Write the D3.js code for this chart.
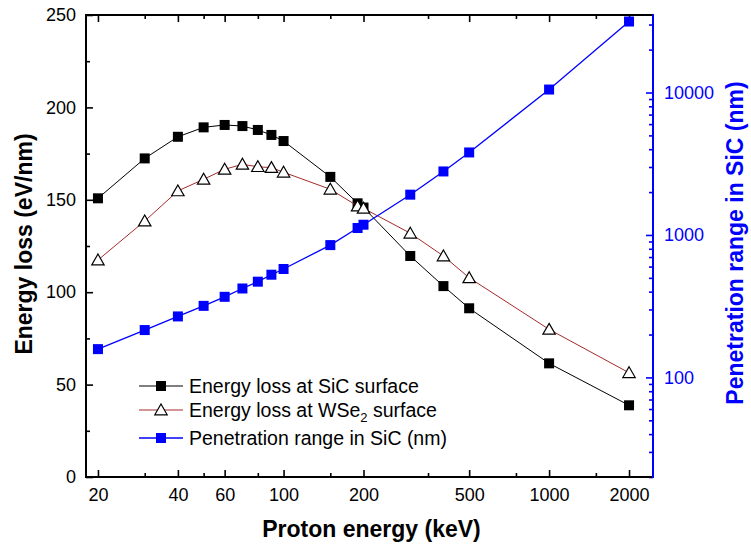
<!DOCTYPE html>
<html>
<head>
<meta charset="utf-8">
<script src="https://cdn.jsdelivr.net/npm/d3@7"></script>
<style>
  body { margin: 0; background: #fff; }
  svg { display: block; font-family: "Liberation Sans", Arial, sans-serif; }
</style>
</head>
<body>
<svg id="chart" width="751" height="548"></svg>
<script>
// proton energies (keV)
var energies = [20, 30, 40, 50, 60, 70, 80, 90, 100, 150, 190, 200, 300, 400, 500, 1000, 2000];
// energy loss at SiC surface (eV/nm)
var sicLoss = [150.8, 172.4, 184.1, 189.2, 190.5, 189.9, 187.8, 185.1, 181.8, 162.4, 148.1, 145.8, 119.6, 103.3, 91.3, 61.5, 38.8];
// energy loss at WSe2 surface (eV/nm)
var wseLoss = [117.4, 138.5, 154.8, 161.1, 166.5, 169.2, 167.9, 167.4, 164.9, 155.7, 146.6, 145.4, 131.9, 119.6, 107.8, 79.9, 56.4];
// penetration range in SiC (nm)
var rangeSiC = [158, 215, 268, 318, 368, 421, 470, 526, 577, 849, 1119, 1180, 1918, 2792, 3795, 10490, 31500];

var xTicks = [20, 40, 60, 100, 200, 500, 1000, 2000];
var xMinor = [30, 50, 80, 150, 350, 750, 1500];
var yTicks = [0, 50, 100, 150, 200, 250];
var yMinor = [25, 75, 125, 175, 225];
var rTicks = [100, 1000, 10000];
var rMinor = [20, 30, 40, 50, 60, 70, 80, 90, 200, 300, 400, 500, 600, 700, 800, 900,
              2000, 3000, 4000, 5000, 6000, 7000, 8000, 9000, 20000, 30000];

var BLUE = "#0000ff", RED = "#a52a2a";
var L = 86, R = 653, T = 15, B = 477;

var svg = d3.select("#chart");

var x = d3.scaleLog().domain([18.03, 2462]).range([L, R]);
var yL = d3.scaleLinear().domain([0, 250]).range([B, T]);
var yR = d3.scaleLog().domain([20, 35000]).range([B, T]);

// draws one axis, major + minor ticks, inward pointing
// make() returns a fresh axis generator each time
function drawAxis(make, pad, pos, major, minor, fmt, color) {
	var g = svg.append("g").attr("transform", pos);
	g.append("g").call(make().tickValues(minor).tickSize(-4).tickFormat(""));
	g.append("g").call(make().tickValues(major).tickSize(-7).tickPadding(pad).tickFormat(fmt));
	g.selectAll(".domain").remove();
	g.selectAll("line").attr("stroke", color).attr("stroke-width", 1.6);
	g.selectAll("text").attr("fill", color).style("font-size", "18px");
	return g;
}

var intFmt = d3.format("d");
var noFmt = function() { return ""; };
drawAxis(function() { return d3.axisBottom(x); }, 11, "translate(0," + B + ")", xTicks, xMinor, intFmt, "#000");
drawAxis(function() { return d3.axisTop(x); }, 3, "translate(0," + T + ")", xTicks, xMinor, noFmt, "#000");
drawAxis(function() { return d3.axisLeft(yL); }, 10, "translate(" + L + ",0)", yTicks, yMinor, intFmt, "#000");
drawAxis(function() { return d3.axisRight(yR); }, 11, "translate(" + R + ",0)", rTicks, rMinor, intFmt, BLUE);

// frame lines
svg.append("line").attr("x1", L).attr("x2", R).attr("y1", B).attr("y2", B).attr("stroke", "#000").attr("stroke-width", 2);
svg.append("line").attr("x1", L).attr("x2", R).attr("y1", T).attr("y2", T).attr("stroke", "#000").attr("stroke-width", 2);
svg.append("line").attr("x1", L).attr("x2", L).attr("y1", T - 1).attr("y2", B + 1).attr("stroke", "#000").attr("stroke-width", 2);
svg.append("line").attr("x1", R).attr("x2", R).attr("y1", T - 1).attr("y2", B + 1).attr("stroke", BLUE).attr("stroke-width", 2);

// axis titles
svg.append("text").attr("x", (L + R) / 2 + 2).attr("y", 537).attr("text-anchor", "middle")
	.style("font-size", "23px").style("font-weight", "bold").text("Proton energy (keV)");
svg.append("text").attr("transform", "translate(32,244) rotate(-90)").attr("text-anchor", "middle")
	.style("font-size", "23px").style("font-weight", "bold").text("Energy loss (eV/nm)");
svg.append("text").attr("transform", "translate(743,243) rotate(-90)").attr("text-anchor", "middle")
	.attr("fill", BLUE).style("font-size", "23px").style("font-weight", "bold").text("Penetration range in SiC (nm)");

var tri = "M0,-6L6.2,4.8L-6.2,4.8Z";

function drawSeries(vals, yScale, stroke, lw, marker, fill, mstroke) {
	var pts = energies.map(function(e, i) { return [x(e), yScale(vals[i])]; });
	svg.append("path").attr("d", d3.line()(pts)).attr("fill", "none")
		.attr("stroke", stroke).attr("stroke-width", lw);
	var m = svg.append("g");
	pts.forEach(function(p) {
		if (marker === "square") {
			m.append("rect").attr("x", p[0] - 5).attr("y", p[1] - 5).attr("width", 10).attr("height", 10)
				.attr("fill", fill);
		} else {
			m.append("path").attr("d", tri).attr("transform", "translate(" + p[0] + "," + p[1] + ")")
				.attr("fill", fill).attr("stroke", mstroke).attr("stroke-width", 1.2);
		}
	});
}

drawSeries(sicLoss, yL, "#000", 1, "square", "#000");
drawSeries(wseLoss, yL, RED, 1, "triangle", "#fff", "#000");
drawSeries(rangeSiC, yR, BLUE, 1.3, "square", BLUE);

// legend
var legend = [
	{ label: "Energy loss at SiC surface", stroke: "#000", marker: "square", fill: "#000", y: 386 },
	{ label: "Energy loss at WSe", sub: "2", after: " surface", stroke: RED, marker: "triangle", fill: "#fff", y: 410 },
	{ label: "Penetration range in SiC (nm)", stroke: BLUE, marker: "square", fill: BLUE, y: 438 }
];
legend.forEach(function(d) {
	var g = svg.append("g");
	g.append("line").attr("x1", 139).attr("x2", 183).attr("y1", d.y).attr("y2", d.y)
		.attr("stroke", d.stroke).attr("stroke-width", d.stroke === BLUE ? 1.3 : 1);
	if (d.marker === "square") {
		g.append("rect").attr("x", 156).attr("y", d.y - 5).attr("width", 10).attr("height", 10).attr("fill", d.fill);
	} else {
		g.append("path").attr("d", tri).attr("transform", "translate(161," + d.y + ")")
			.attr("fill", "#fff").attr("stroke", "#000").attr("stroke-width", 1.2);
	}
	var t = g.append("text").attr("x", 189).attr("y", d.y + 7).style("font-size", "19.5px").text(d.label);
	if (d.sub) {
		t.append("tspan").attr("dy", 5).style("font-size", "13px").text(d.sub);
		t.append("tspan").attr("dy", -5).text(d.after);
	}
});
</script>
</body>
</html>
